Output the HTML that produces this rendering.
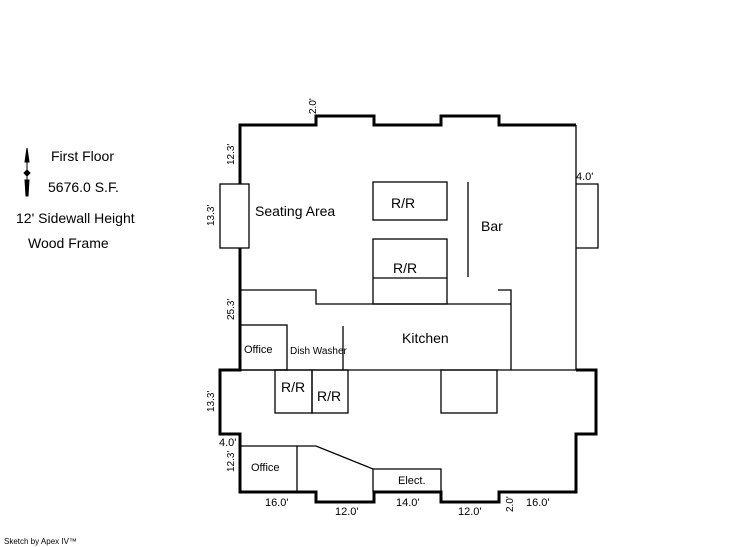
<!DOCTYPE html>
<html><head><style>body{margin:0;background:#fff}svg{display:block}text{font-family:"Liberation Sans",sans-serif;fill:#000}</style></head><body>
<svg width="746" height="547" viewBox="0 0 746 547" xmlns="http://www.w3.org/2000/svg">
<g fill="none" stroke="#000" stroke-width="3">
<polyline points="240,184 240,125 316,125 316,116 374,116 374,125 441,125 441,116 499,116 499,125 576,125"/>
<polyline points="240,248 240,370 220,370 220,434 240,434 240,492 316,492 316,502 374,502 374,492 441,492 441,502 499,502 499,492 576,492 576,434 596,434 596,370 576,370"/>
</g>
<g fill="none" stroke="#000" stroke-width="1.3">
<line x1="576" y1="125" x2="576" y2="370"/>
<polyline points="576,184 598,184 598,248 576,248"/>
<rect x="220" y="184" width="29" height="64"/>
<rect x="373" y="182" width="74" height="38"/>
<rect x="373" y="239" width="74" height="65"/>
<line x1="373" y1="278" x2="447" y2="278"/>
<line x1="468" y1="182" x2="468" y2="277"/>
<polyline points="240,290 316,290 316,304 511,304"/>
<polyline points="498,290 511,290 511,370"/>
<rect x="240" y="325" width="47" height="45"/>
<line x1="343" y1="326" x2="343" y2="370"/>
<line x1="240" y1="370" x2="576" y2="370"/>
<rect x="275" y="370" width="37" height="43"/>
<rect x="312" y="370" width="36" height="43"/>
<rect x="441" y="370" width="56" height="43"/>
<polyline points="240,446 316,446 373,469 441,469 441,492"/>
<line x1="373" y1="469" x2="373" y2="492"/>
<line x1="297" y1="446" x2="297" y2="492"/>
</g>
<g font-size="14">
<text x="51" y="161">First Floor</text>
<text x="48" y="192">5676.0 S.F.</text>
<text x="16" y="223">12' Sidewall Height</text>
<text x="28" y="248">Wood Frame</text>
<text x="255" y="216">Seating Area</text>
<text x="391" y="208">R/R</text>
<text x="481" y="231">Bar</text>
<text x="393" y="273">R/R</text>
<text x="402" y="343">Kitchen</text>
<text x="281" y="392">R/R</text>
<text x="317" y="401">R/R</text>
</g>
<g font-size="11">
<text x="244" y="353">Office</text>
<text x="251" y="471">Office</text>
<text x="290" y="354" font-size="10">Dish Washer</text>
<text x="398" y="484">Elect.</text>
<text x="576" y="180">4.0'</text>
<text x="219" y="446">4.0'</text>
<text x="265" y="506">16.0'</text>
<text x="335" y="515">12.0'</text>
<text x="396" y="506">14.0'</text>
<text x="458" y="515">12.0'</text>
<text x="526" y="506">16.0'</text>
</g>
<g font-size="10">
<text transform="translate(316,114) rotate(-90)">2.0'</text>
<text transform="translate(234,165) rotate(-90)">12.3'</text>
<text transform="translate(214,226) rotate(-90)">13.3'</text>
<text transform="translate(234,320) rotate(-90)">25.3'</text>
<text transform="translate(214,412) rotate(-90)">13.3'</text>
<text transform="translate(234,472) rotate(-90)">12.3'</text>
<text transform="translate(513,512) rotate(-90)">2.0'</text>
</g>
<text x="4" y="544" font-size="8">Sketch by Apex IV™</text>
<g fill="#000" stroke="#000" stroke-width="1">
<line x1="27" y1="148" x2="27" y2="196"/>
<polygon points="27,148 25,162 29,162"/>
<polygon points="27,170 24,173 27,176 30,173"/>
<polygon points="25,180 29,180 28,196 26,196"/>
</g>
</svg>
</body></html>
